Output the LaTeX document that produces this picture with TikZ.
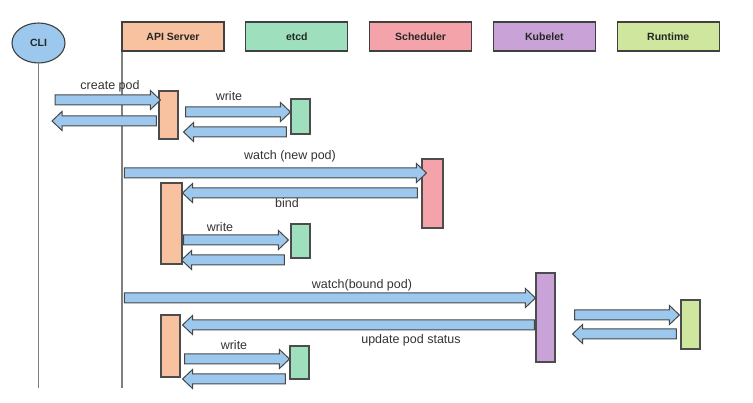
\documentclass[tikz,border=0pt]{standalone}
\usepackage{fontspec}
\setmainfont{Liberation Sans}
\usetikzlibrary{positioning,calc,shapes.geometric}
\definecolor{flowBlue}{HTML}{9DC8EE}
\definecolor{apiCol}{HTML}{F8C1A0}
\definecolor{etcdCol}{HTML}{9EE0BD}
\definecolor{schedCol}{HTML}{F4A3AA}
\definecolor{kubeCol}{HTML}{C9A3D8}
\definecolor{runCol}{HTML}{CEE69D}
\tikzset{actorBox/.style={rectangle,draw=black!75,line width=1.1pt,minimum width=102pt,
		                 minimum height=29pt,inner sep=0pt,text=black!85,
		                 font=\fontsize{10.5}{12}\selectfont\bfseries},
		cliNode/.style={ellipse,draw=black!75,line width=1.1pt,fill=flowBlue,minimum width=53pt,
		                 minimum height=40pt,inner sep=0pt,text=black!85,
		                 font=\fontsize{10.5}{12}\selectfont\bfseries},
		actBar/.style={rectangle,draw=black!70,line width=1.1pt,minimum width=19pt,inner sep=0pt},
		lifeLine/.style={draw=black!50,line width=1.8pt},
		blockArrow/.style={draw=black!72,fill=flowBlue,line width=1pt,line join=miter},
		msgLabel/.style={font=\fontsize{12.5}{14}\selectfont,text=black!80,inner sep=0pt}}
% horizontal block arrow: #1 = y, #2 = tail, #3 = head
\newcommand\msgArrow[3]{%
  \draw[blockArrow] let \p1=(#2), \p2=(#3), \p3=(0,#1), \p5=(\x1,\y3), \p6=(\x2,\y3),
    \p4=($(\p6)!10pt!(\p5)$) in
    (\x1,\y3+5pt) -- (\x4,\y3+5pt) -- (\x4,\y3+9.5pt) -- (\p6)
    -- (\x4,\y3-9.5pt) -- (\x4,\y3-5pt) -- (\x1,\y3-5pt) -- cycle;}

\begin{document}
\begin{tikzpicture}[x=1pt,y=-1pt]
\useasboundingbox (0,0) rectangle (753,403);
\coordinate (bottom) at (0,388);

% actors
\node[cliNode] (cli) at (38.5,43) {CLI};
\draw[lifeLine] (cli.south) -- (cli.south |- bottom);
\draw[lifeLine] (122,36) -- (122,388);
\node[actorBox, fill=apiCol] (api) at (173,36.5) {API Server};
\node[actorBox, fill=etcdCol, right=20.7pt of api] (etcd) {etcd};
\node[actorBox, fill=schedCol, right=20.7pt of etcd] (sched) {Scheduler};
\node[actorBox, fill=kubeCol, right=20.7pt of sched] (kubelet) {Kubelet};
\node[actorBox, fill=runCol, right=20.7pt of kubelet] (runtime) {Runtime};

% activation bars
\node[actBar, fill=apiCol, minimum height=48pt] (api1) at (168.5,115) {};
\node[actBar, fill=etcdCol, minimum height=35pt] (etcd1) at (300.5,116.5) {};
\node[actBar, fill=schedCol, minimum width=21pt, minimum height=69pt] (sched1) at (432.5,193.5) {};
\node[actBar, fill=apiCol, minimum width=21pt, minimum height=81pt] (api2) at (171.5,223.5) {};
\node[actBar, fill=etcdCol, minimum height=34pt] (etcd2) at (300.5,241) {};
\node[actBar, fill=kubeCol, minimum height=89pt] (kub1) at (545.5,317.5) {};
\node[actBar, fill=runCol, minimum height=49pt] (run1) at (690.5,324.5) {};
\node[actBar, fill=apiCol, minimum height=62pt] (api3) at (170.5,346) {};
\node[actBar, fill=etcdCol, minimum height=33pt] (etcd3) at (299.5,362.5) {};

% messages
\msgArrow{100}{[xshift=16.5pt]cli.south}{[xshift=2pt]api1.west}
\msgArrow{121}{[xshift=-2pt]api1.west}{[xshift=13.5pt]cli.south}
\msgArrow{112}{[xshift=7pt]api1.east}{etcd1.west}
\msgArrow{132}{[xshift=-4pt]etcd1.west}{[xshift=5pt]api1.east}
\msgArrow{173}{[xshift=3pt]api.west}{[xshift=5pt]sched1.west}
\msgArrow{193}{[xshift=-4pt]sched1.west}{api2.east}
\msgArrow{240}{[xshift=1pt]api2.east}{[xshift=-2pt]etcd2.west}
\msgArrow{260}{[xshift=-6pt]etcd2.west}{[xshift=-1pt]api2.east}
\msgArrow{298}{[xshift=3pt]api.west}{kub1.west}
\msgArrow{325}{[xshift=-1pt]kub1.west}{[xshift=2pt]api3.east}
\msgArrow{315}{[xshift=19pt]kub1.east}{[xshift=-1pt]run1.west}
\msgArrow{334}{[xshift=-4pt]run1.west}{[xshift=17pt]kub1.east}
\msgArrow{359}{[xshift=4pt]api3.east}{etcd3.west}
\msgArrow{379}{[xshift=-4pt]etcd3.west}{[xshift=2pt]api3.east}

% labels
\node[msgLabel] (lCreate) at (110,86) {create pod};
\node[msgLabel] (lWrite1) at (229,96) {write};
\node[msgLabel] (lWatchNew) at (290,156) {watch (new pod)};
\node[msgLabel] (lBind) at (287,203) {bind};
\node[msgLabel] (lWrite2) at (220,227) {write};
\node[msgLabel] (lWatchBound) at (362,285) {watch(bound pod)};
\node[msgLabel] (lUpdate) at (411,340) {update pod status};
\node[msgLabel] (lWrite3) at (234,345) {write};
\end{tikzpicture}
\end{document}
